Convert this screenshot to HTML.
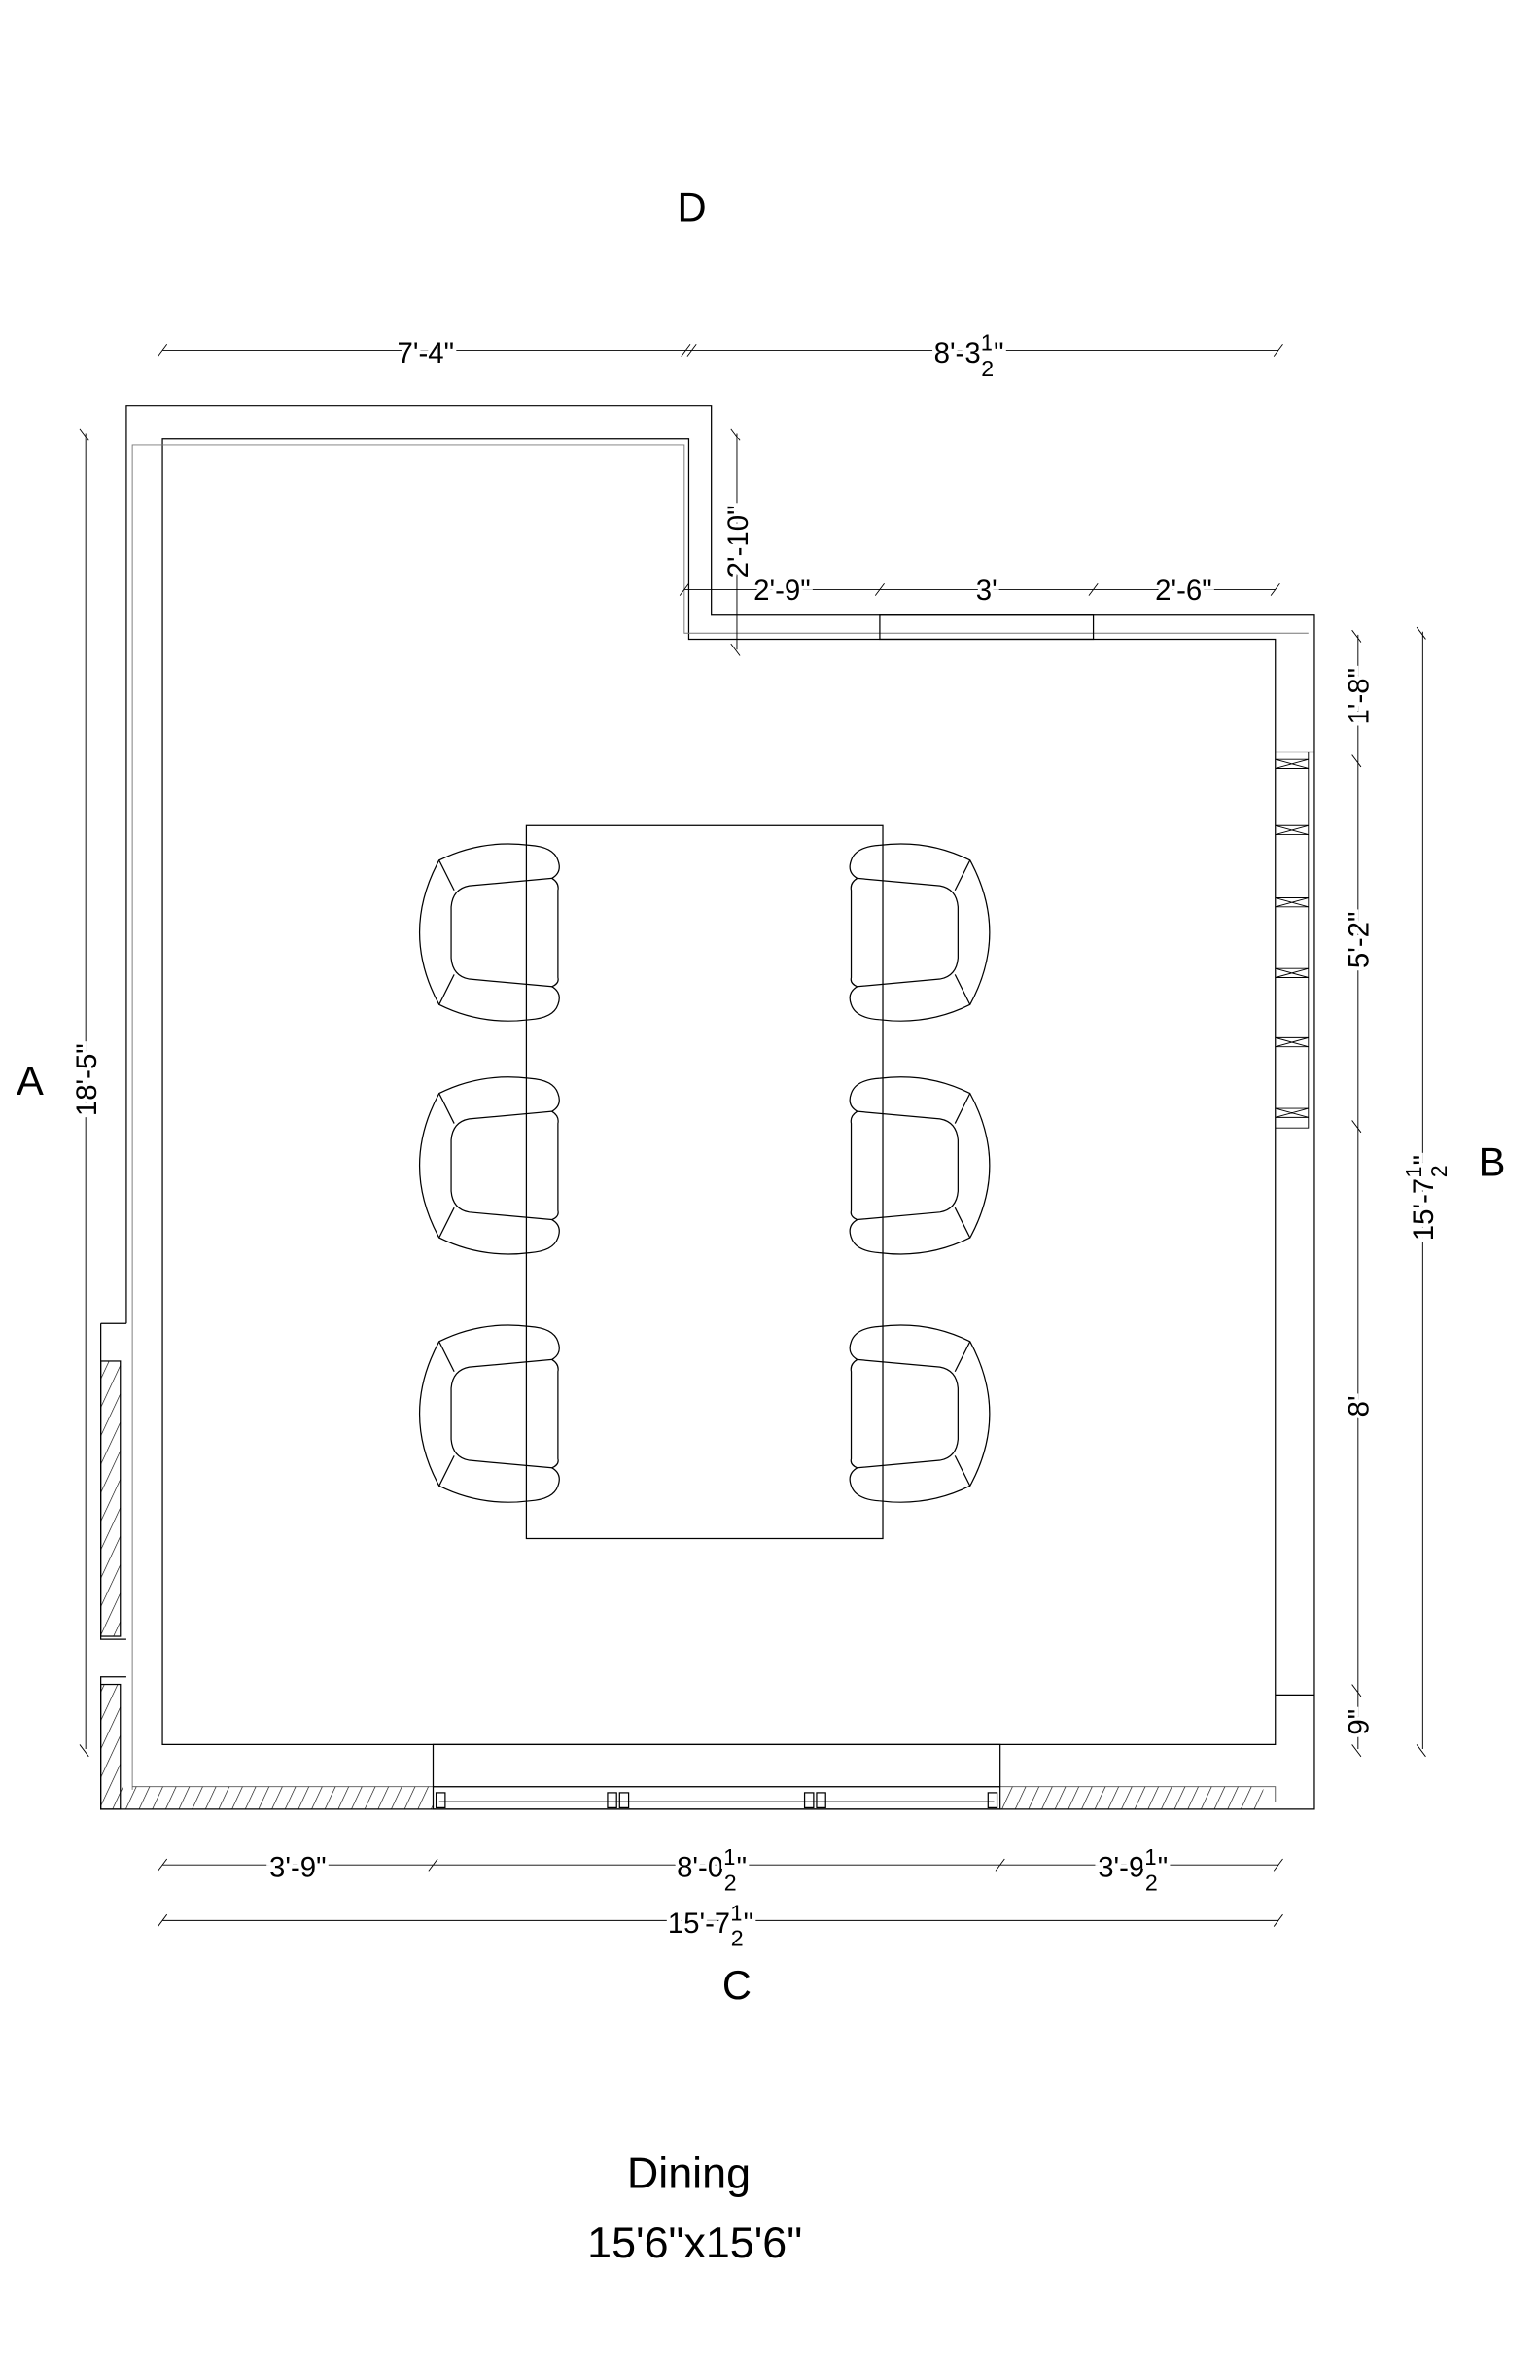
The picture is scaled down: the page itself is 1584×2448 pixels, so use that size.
<!DOCTYPE html>
<html><head><meta charset="utf-8"><style>
html,body{margin:0;padding:0;background:#fff}
svg{display:block}
text{font-family:"Liberation Sans",Arial,sans-serif;fill:#000}
.d{font-size:19px;paint-order:stroke;stroke:#fff;stroke-width:5px}
.f{font-size:15px}
</style></head><body>
<svg width="1584" height="2448" viewBox="0 0 1024 1582.5" xmlns="http://www.w3.org/2000/svg">
<defs>
<pattern id="h" width="8" height="8" patternUnits="userSpaceOnUse" patternTransform="rotate(25)">
<line x1="0" y1="0" x2="0" y2="8" stroke="#000" stroke-width="0.8"/>
</pattern>
<g id="chL" fill="none" stroke="#000" stroke-width="0.8">
<path d="M352,-58 Q320,-62 292,-48 Q266,0 292,48 Q320,62 352,58"/>
<path d="M352,-58 Q368,-57 371,-48 Q374,-40 367,-36 Q372,-33 371,-28 L371,30 Q372,34 367,36 Q374,40 371,48 Q368,57 352,58"/>
<path d="M367,-36 L312,-31 Q301,-29 300,-17 L300,17 Q301,29 312,31 L367,36"/>
<path d="M292,-48 L302,-28 M292,48 L302,28"/>
</g>
</defs>
<rect width="1024" height="1583" fill="#fff"/>

<g fill="none" stroke="#000" stroke-width="0.8">
<path d="M84,880 L84,270 L473,270 L473,409 L874,409 L874,1203 L67,1203 L67,1115 L84,1115"/>
<path d="M67,880 L84,880 M67,880 L67,1090 L84,1090"/>
<path d="M108,1160 L108,292 L458,292 L458,425 L848,425 L848,1160 Z"/>
<path d="M88,1190 L88,296 L455,296 L455,421 L870,421" stroke="#777" stroke-width="0.6"/>
<path d="M88,1188 L848,1188 L848,1198" stroke="#555" stroke-width="0.6"/>
<rect x="585" y="409" width="142" height="16"/>
<path d="M848,500 L874,500 M848,1127 L874,1127"/>
<g stroke-width="0.6">
<path d="M848,500 L870,500 L870,750 L848,750"/>
<path d="M848,505 l22,6 m-22,0 l22,-6 M848,549 l22,6 m-22,0 l22,-6 M848,597 l22,6 m-22,0 l22,-6 M848,644 l22,6 m-22,0 l22,-6 M848,690 l22,6 m-22,0 l22,-6 M848,737 l22,6 m-22,0 l22,-6"/>
<path d="M848,505 h22 M848,511 h22 M848,549 h22 M848,555 h22 M848,597 h22 M848,603 h22 M848,644 h22 M848,650 h22 M848,690 h22 M848,696 h22 M848,737 h22 M848,743 h22"/>
</g>
<rect x="67" y="905" width="13" height="183" fill="url(#h)"/>
<rect x="67" y="1120" width="13" height="83" fill="url(#h)"/>
<rect x="80" y="1188" width="208" height="15" fill="url(#h)" stroke="none"/>
<rect x="665" y="1188" width="175" height="15" fill="url(#h)" stroke="none"/>
<rect x="288" y="1160" width="377" height="43"/>
<path d="M288,1188 H665 M292,1198 H661"/>
<rect x="290" y="1192" width="6" height="10"/><rect x="404" y="1192" width="6" height="10"/><rect x="412" y="1192" width="6" height="10"/>
<rect x="535" y="1192" width="6" height="10"/><rect x="543" y="1192" width="6" height="10"/><rect x="657" y="1192" width="6" height="10"/>
</g>

<rect x="350" y="549" width="237" height="474" fill="none" stroke="#000" stroke-width="0.8"/>
<use href="#chL" transform="translate(0,620)"/>
<use href="#chL" transform="translate(0,775)"/>
<use href="#chL" transform="translate(0,940)"/>
<use href="#chL" transform="translate(937,620) scale(-1,1)"/>
<use href="#chL" transform="translate(937,775) scale(-1,1)"/>
<use href="#chL" transform="translate(937,940) scale(-1,1)"/>

<g fill="none" stroke="#000" stroke-width="0.6">
<path d="M108,233 H850 M105,237 l6,-8 M453,237 l6,-8 M457,237 l6,-8 M847,237 l6,-8"/>
<path d="M455,392 H848 M452,396 l6,-8 M582,396 l6,-8 M724,396 l6,-8 M845,396 l6,-8"/>
<path d="M490,288 V432 M486,285 l6,8 M486,428 l6,8"/>
<path d="M57,288 V1163 M53,285 l6,8 M53,1160 l6,8"/>
<path d="M903,422 V1163 M899,419 l6,8 M899,502 l6,8 M899,745 l6,8 M899,1120 l6,8 M899,1160 l6,8"/>
<path d="M946,420 V1163 M942,417 l6,8 M942,1160 l6,8"/>
<path d="M108,1240 H850 M105,1244 l6,-8 M285,1244 l6,-8 M662,1244 l6,-8 M847,1244 l6,-8"/>
<path d="M108,1277 H850 M105,1281 l6,-8 M847,1281 l6,-8"/>
</g>

<g class="d">
<text x="283" y="241" text-anchor="middle">7'-4"</text>
<text x="621" y="241">8'-3<tspan class="f" dy="-8">1</tspan><tspan class="f" dx="-8" dy="17">2</tspan><tspan dy="-9">"</tspan></text>
<text x="520" y="399" text-anchor="middle">2'-9"</text>
<text x="656" y="399" text-anchor="middle">3'</text>
<text x="787" y="399" text-anchor="middle">2'-6"</text>
<text transform="translate(497,360) rotate(-90)" text-anchor="middle">2'-10"</text>
<text transform="translate(64,718) rotate(-90)" text-anchor="middle">18'-5"</text>
<text transform="translate(910,463) rotate(-90)" text-anchor="middle">1'-8"</text>
<text transform="translate(910,625) rotate(-90)" text-anchor="middle">5'-2"</text>
<text transform="translate(910,935) rotate(-90)" text-anchor="middle">8'</text>
<text transform="translate(910,1145) rotate(-90)" text-anchor="middle">9"</text>
<text transform="translate(953,825) rotate(-90)">15'-7<tspan class="f" dy="-8">1</tspan><tspan class="f" dx="-8" dy="17">2</tspan><tspan dy="-9">"</tspan></text>
<text x="198" y="1248" text-anchor="middle">3'-9"</text>
<text x="450" y="1248">8'-0<tspan class="f" dy="-8">1</tspan><tspan class="f" dx="-8" dy="17">2</tspan><tspan dy="-9">"</tspan></text>
<text x="730" y="1248">3'-9<tspan class="f" dy="-8">1</tspan><tspan class="f" dx="-8" dy="17">2</tspan><tspan dy="-9">"</tspan></text>
<text x="444" y="1285">15'-7<tspan class="f" dy="-8">1</tspan><tspan class="f" dx="-8" dy="17">2</tspan><tspan dy="-9">"</tspan></text>
</g>

<g style="font-size:27px">
<text x="460" y="147" text-anchor="middle">D</text>
<text x="20" y="728" text-anchor="middle">A</text>
<text x="992" y="782" text-anchor="middle">B</text>
<text x="490" y="1329" text-anchor="middle">C</text>
</g>
<text x="458" y="1455" text-anchor="middle" style="font-size:29px">Dining</text>
<text x="462" y="1501" text-anchor="middle" style="font-size:29px">15'6"x15'6"</text>
</svg>
</body></html>
